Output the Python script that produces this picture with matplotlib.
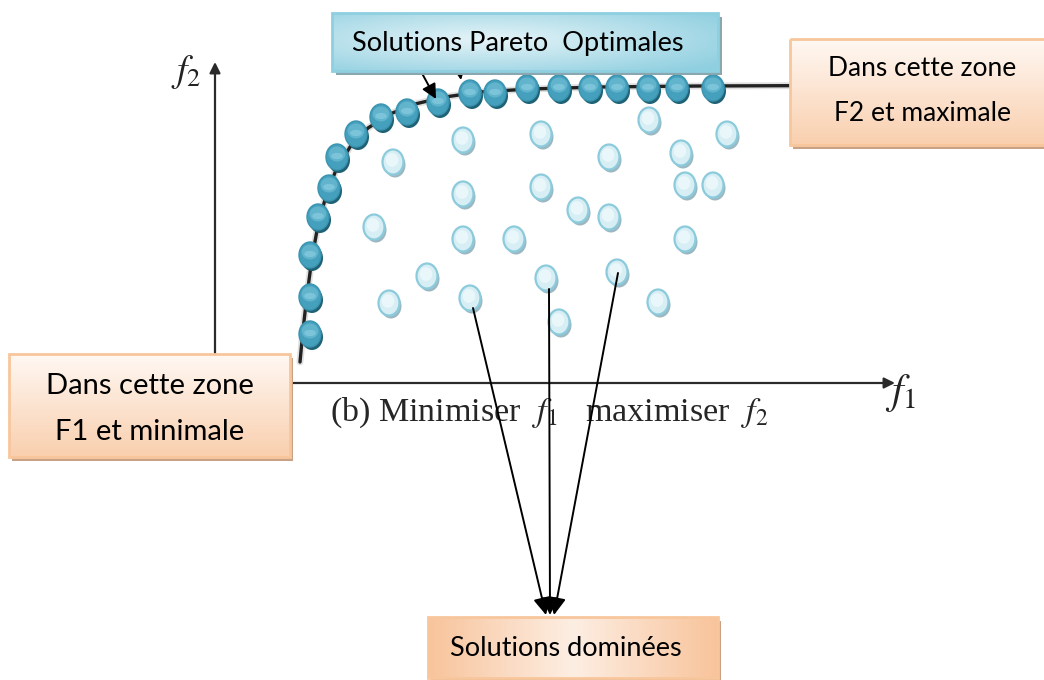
import numpy as np
import matplotlib
matplotlib.use("Agg")
import matplotlib.pyplot as plt
from matplotlib.patches import Ellipse, Rectangle

# ---------------- data (pixel-space diagram coordinates) ----------------
pareto_x = [310, 310, 310, 318, 329, 337, 356, 381, 407, 438, 470, 495, 527, 559, 590, 617, 648, 677, 713]
pareto_y = [334, 297, 255, 217, 188, 157, 134, 117, 112, 102, 93, 93, 88, 88, 88, 88, 88, 88, 88]

dominated_x = [393, 463, 541, 649, 727, 609, 681, 463, 541, 685, 713, 578, 609, 374,
               463, 514, 685, 427, 546, 617, 389, 470, 559, 658]
dominated_y = [162, 140, 134, 120, 134, 157, 153, 194, 187, 185, 185, 210, 217, 227,
               239, 239, 239, 276, 278, 272, 303, 298, 322, 302]

front_x = [300, 303, 307, 312, 318, 326, 336, 350, 368, 390, 415, 445, 480, 530, 600, 700, 975]
front_y = [362, 330, 295, 258, 225, 196, 170, 147, 128, 114, 104, 97, 92, 89, 87, 86, 85]

# arrows toward the dominated-solutions box (start points)
dom_arrow_x = [473, 549, 618]
dom_arrow_y = [308, 289, 273]
dom_target_x = [546, 550, 554]

label_pareto = "Solutions Pareto  Optimales"
label_dominated = "Solutions dominées"
label_f2zone = "Dans cette zone\nF2 et maximale"
label_f1zone = "Dans cette zone\nF1 et minimale"
caption = r"(b) Minimiser  $f_1$   maximiser  $f_2$"

W, H = 1044, 680
fig = plt.figure(figsize=(W / 100, H / 100), dpi=100)
ax = fig.add_axes([0, 0, 1, 1])
ax.set_xlim(0, W)
ax.set_ylim(H, 0)
ax.axis("off")

BOX_FONT = ["Lato", "DejaVu Sans"]


def hexrgb(h):
    return np.array(matplotlib.colors.to_rgb(h))


def gradient_box(x0, y0, x1, y1, kind, c_a, c_b, border, shadow, z=5, sh=(3, 4)):
    ax.add_patch(Rectangle((x0 + sh[0], y0 + sh[1]), x1 - x0, y1 - y0,
                           facecolor=shadow, edgecolor="none", zorder=z))
    n = 100
    if kind == "vertical":
        t = np.linspace(0, 1, n)[:, None] * np.ones((1, n))
    elif kind == "hmid":
        t = np.abs(np.linspace(-1, 1, n))[None, :] * np.ones((n, 1))
    else:  # radial
        yy, xx = np.mgrid[0:1:n * 1j, 0:1:n * 1j]
        t = np.clip(np.sqrt(((xx - 0.4) / 0.75) ** 2 + ((yy - 0.45) / 0.75) ** 2), 0, 1)
    a, b = hexrgb(c_a), hexrgb(c_b)
    img = a[None, None, :] * (1 - t[..., None]) + b[None, None, :] * t[..., None]
    ax.imshow(img, extent=(x0, x1, y1, y0), origin="upper", aspect="auto",
              zorder=z + 0.1, interpolation="bilinear")
    ax.add_patch(Rectangle((x0, y0), x1 - x0, y1 - y0, facecolor="none",
                           edgecolor=border, linewidth=2, zorder=z + 0.2))


# ---------------- axes of the diagram ----------------
ax.annotate("", xy=(215, 62), xytext=(215, 356),
            arrowprops=dict(arrowstyle="-|>", color="#2a2a2a", lw=1.6,
                            mutation_scale=16, shrinkA=0, shrinkB=0), zorder=2)
ax.annotate("", xy=(895, 383), xytext=(215, 383),
            arrowprops=dict(arrowstyle="-|>", color="#2a2a2a", lw=1.6,
                            mutation_scale=16, shrinkA=0, shrinkB=0), zorder=2)
ax.text(186, 72, r"$f_2$", fontsize=27, ha="center", va="center",
        math_fontfamily="stix", color="#222222", zorder=3)
ax.text(901, 393, r"$f_1$", fontsize=30, ha="center", va="center",
        math_fontfamily="stix", color="#222222", zorder=3)
ax.text(549, 413, caption, fontsize=24.5, ha="center", va="center",
        family="Liberation Serif", math_fontfamily="stix", color="#262626", zorder=3)

# ---------------- Pareto front ----------------
ax.plot(front_x, front_y, color="#cccccc", lw=5, solid_capstyle="round", zorder=3, alpha=0.6)
ax.plot(front_x, front_y, color="#222222", lw=2.4, solid_capstyle="round", zorder=3.1)

# ---------------- dots ----------------
DW, DH = 21, 25
for x, y in zip(dominated_x, dominated_y):
    ax.add_patch(Ellipse((x + 2, y + 3), DW, DH, facecolor="#9bb8c2", edgecolor="none", zorder=4))
    ax.add_patch(Ellipse((x, y), DW, DH, facecolor="#d6eef4", edgecolor="#8ccbdc", lw=1.6, zorder=4.1))
    ax.add_patch(Ellipse((x - 1, y - 2), DW * 0.6, DH * 0.55, facecolor="#eaf7fa", edgecolor="none", zorder=4.2))

for x, y in zip(pareto_x, pareto_y):
    ax.add_patch(Ellipse((x + 2, y + 3), DW + 1, DH + 1, facecolor="#1f6275", edgecolor="none", zorder=4))
    ax.add_patch(Ellipse((x, y), DW + 1, DH + 1, facecolor="#44a0bd", edgecolor="#3a94b0", lw=1, zorder=4.1))
    ax.add_patch(Ellipse((x, y - 3), DW * 0.8, DH * 0.6, facecolor="#68b8d0", edgecolor="none", zorder=4.2, alpha=0.85))
    ax.add_patch(Ellipse((x, y - 1), DW * 0.55, DH * 0.25, facecolor="#8fd0e2", edgecolor="none", zorder=4.3, alpha=0.6))

# ---------------- arrows from the Pareto label ----------------
arr = dict(arrowstyle="-|>", color="black", lw=1.4, mutation_scale=22, shrinkA=0, shrinkB=0)
ax.annotate("", xy=(436, 99), xytext=(412, 55), arrowprops=arr, zorder=4.5)
ax.annotate("", xy=(461, 80), xytext=(455, 40), arrowprops=arr, zorder=4.5)
ax.annotate("", xy=(498, 76), xytext=(497, 40), arrowprops=dict(arrowstyle="-|>", color="black", lw=1.2,
            mutation_scale=14, shrinkA=0, shrinkB=0), zorder=4.5)

# ---------------- arrows to dominated box ----------------
for sx, sy, tx in zip(dom_arrow_x, dom_arrow_y, dom_target_x):
    ax.annotate("", xy=(tx, 615), xytext=(sx, sy),
                arrowprops=dict(arrowstyle="-|>", color="black", lw=1.4, mutation_scale=26,
                                shrinkA=0, shrinkB=0), zorder=4.6)

# ---------------- boxes ----------------
gradient_box(332, 13, 718, 71, "radial", "#e6f4f8", "#8fcfe0", "#8ecfe0", "#8aa6af", z=6, sh=(4, 4))
ax.text(518, 43, label_pareto, fontsize=19.5, family=BOX_FONT, ha="center", va="center", zorder=7)

gradient_box(790, 39, 1046, 145, "vertical", "#fff8f3", "#f9cfae", "#f8c69c", "#c9a285", z=6, sh=(3, 4))
ax.text(922, 91, label_f2zone, fontsize=19, family=BOX_FONT, ha="center", va="center",
        linespacing=2.0, zorder=7)

gradient_box(9, 354, 290, 457, "vertical", "#fff8f3", "#f9cfae", "#f8c69c", "#c9a285", z=6, sh=(3, 4))
ax.text(150, 409, label_f1zone, fontsize=21, family=BOX_FONT, ha="center", va="center",
        linespacing=1.95, zorder=7)

gradient_box(428, 617, 718, 678, "hmid", "#fdeee3", "#f8c49c", "#f8c69c", "#c9a285", z=6, sh=(3, 4))
ax.text(566, 648, label_dominated, fontsize=19.5, family=BOX_FONT, ha="center", va="center", zorder=7)

fig.savefig("out.png", dpi=100)
